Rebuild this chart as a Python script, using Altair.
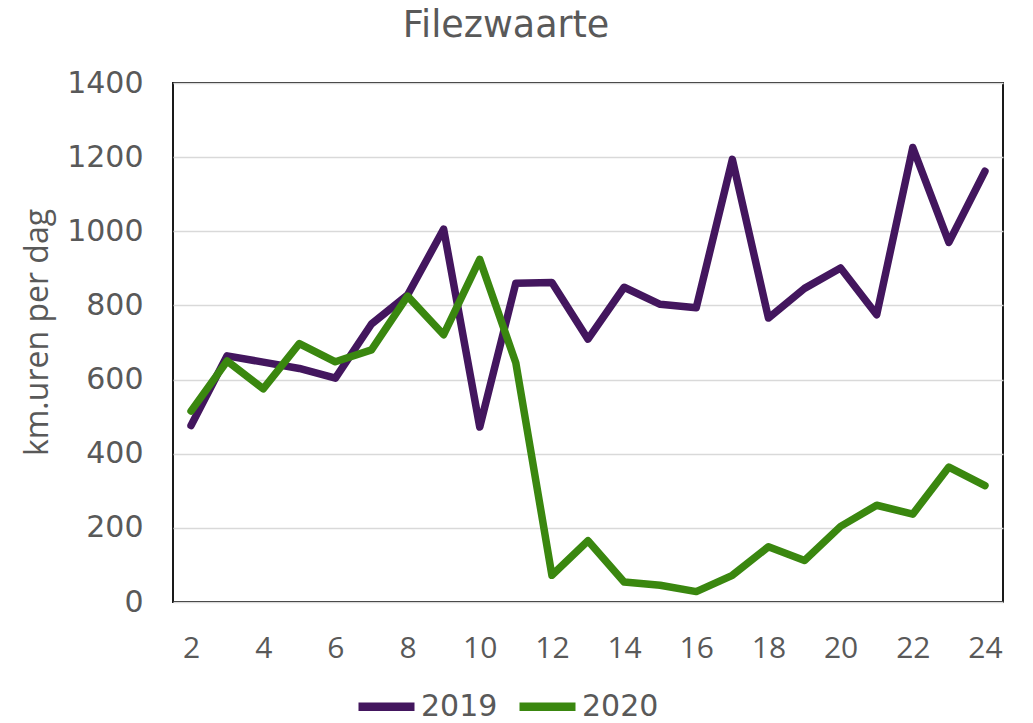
import altair as alt
import pandas as pd

weeks = list(range(2, 25))
values_2019 = [476, 664, 647, 630, 604, 750, 828, 1006, 472, 860, 862, 709,
               849, 803, 794, 1194, 766, 846, 901, 775, 1226, 970, 1162]
values_2020 = [515, 650, 575, 697, 648, 680, 825, 721, 924, 645, 72, 165,
               54, 45, 28, 72, 149, 112, 204, 261, 237, 364, 314]
years = ["2019", "2020"]
colors = ["#43165E", "#3A870F"]
x_ticks = list(range(2, 25, 2))
y_ticks = list(range(0, 1401, 200))
chart_title = ["Filezwaarte"]

df = pd.DataFrame({
    "week": weeks * 2,
    "value": values_2019 + values_2020,
    "year": [years[0]] * len(weeks) + [years[1]] * len(weeks),
})
title_df = pd.DataFrame({"t": chart_title})

text_color = "#595959"

lines = alt.Chart(df).mark_line(
    strokeWidth=7.5, strokeCap="round", strokeJoin="round"
).encode(
    x=alt.X(
        "week:Q",
        scale=alt.Scale(domain=[1.5, 24.5], nice=False, zero=False),
        axis=alt.Axis(
            values=x_ticks, title=None, grid=False, ticks=False, domain=False,
            labelFont="Open Sans", labelFontSize=30, labelColor=text_color,
            labelPadding=31, labelFlush=False, labelOverlap=False,
        ),
    ),
    y=alt.Y(
        "value:Q",
        scale=alt.Scale(domain=[0, 1400], nice=False),
        axis=alt.Axis(
            values=y_ticks, format="d", title="km.uren per dag", grid=True,
            gridColor="#D9D9D9", gridWidth=1.3, ticks=False, domain=False,
            labelFont="DejaVu Sans", labelFontSize=30, labelColor=text_color,
            labelPadding=30,
            titleFont="Open Sans", titleFontSize=32, titleFontWeight="normal",
            titleColor=text_color, titleX=-126, titleY=249, titleAngle=270,
            titleBaseline="alphabetic", titleAlign="center",
        ),
    ),
    color=alt.Color(
        "year:N",
        scale=alt.Scale(domain=years, range=colors),
        legend=alt.Legend(
            title=None, orient="none", legendX=181, legendY=591,
            direction="horizontal", symbolType="stroke", symbolStrokeWidth=8.5,
            symbolSize=3136, labelFont="DejaVu Sans", labelFontSize=30,
            labelColor=text_color, columnPadding=4, labelOffset=2,
        ),
    ),
)

title_mark = alt.Chart(title_df).mark_text(
    font="DejaVu Sans", fontSize=36.5, color=text_color,
    align="center", baseline="alphabetic",
).encode(
    text="t:N",
    x=alt.value(333),
    y=alt.value(-46),
)

chart = alt.layer(lines, title_mark).properties(
    width=830,
    height=519,
    autosize=alt.AutoSizeParams(type="none"),
    padding={"left": 165, "top": 75, "right": 20, "bottom": 120},
).configure_view(stroke="#1a1a1a", strokeWidth=2)

chart.save("out.html", embed_options={"renderer": "svg", "actions": False})
